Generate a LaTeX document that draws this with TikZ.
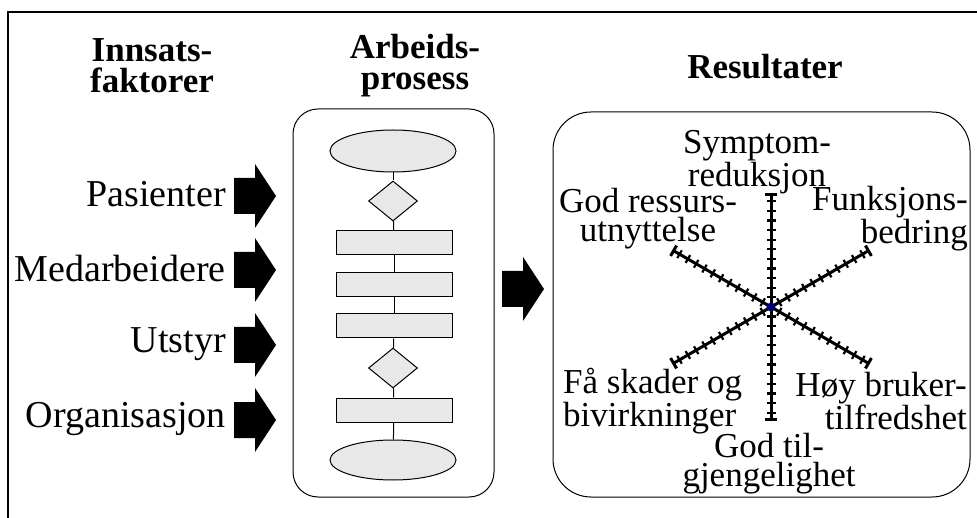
\documentclass[tikz,border=0pt]{standalone}
\usepackage{fontspec}
\setmainfont{Liberation Serif}
\usetikzlibrary{shapes.geometric,arrows.meta}

\begin{document}
\begin{tikzpicture}[x=1pt,y=-1pt,font=\fontsize{35}{29}\selectfont]
\tikzset{
 flow/.style={draw,fill=gray!18,line width=1pt,inner sep=0pt},
 roundbox/.style={draw,line width=1pt,inner sep=0pt},
 head/.style={font=\fontsize{35}{31}\selectfont\bfseries,align=center,inner sep=0pt},
 input/.style={anchor=east,inner sep=0pt,font=\fontsize{38}{38}\selectfont},
 lab/.style={align=center,inner sep=0pt},
 spoke/.style={line width=3pt,-{Bar[width=12pt,line width=3pt]}},
 tick/.style={line width=2.2pt},
 blockarrow/.pic={\fill (-21,-18) -- (0,-18) -- (0,-32) -- (21,0) -- (0,32) -- (0,18) -- (-21,18) -- cycle;}
}
%\draw[help lines] (0,0) grid (977,518);
\clip (0,0) rectangle (977,518);
\draw[line width=2pt] (8,540) -- (8,12) -- (995,12);

% headings
\node (hin) [head] at (152,66) {Innsats-\\faktorer};
\node (hap) [head] at (415,66) {Arbeids-\\prosess};
\node (hres) [head] at (765,67) {Resultater};

% inputs
\node (pas) [input] at (226,194) {Pasienter};
\node (med) [input] at (226,269) {Medarbeidere};
\node (uts) [input] at (226,344) {Utstyr};
\node (org) [input] at (226,419) {Organisasjon};
\foreach \y in {196,270,345,420}
  \pic at (255,\y) {blockarrow};

% process
\node (proc) [roundbox,rounded corners=25pt,minimum width=201pt,minimum height=388pt] at (393.5,303) {};
\node (start) [flow,ellipse,minimum width=126pt,minimum height=42pt] at (393,151) {};
\node (q1) [flow,diamond,minimum width=49pt,minimum height=40pt] at (393,201) {};
\node (s1) [flow,minimum width=116pt,minimum height=24pt] at (394,243) {};
\node (s2) [flow,minimum width=116pt,minimum height=24pt] at (394,285) {};
\node (s3) [flow,minimum width=116pt,minimum height=24pt] at (394,326) {};
\node (q2) [flow,diamond,minimum width=49pt,minimum height=40pt] at (393,368) {};
\node (s4) [flow,minimum width=116pt,minimum height=24pt] at (394,410) {};
\node (stop) [flow,ellipse,minimum width=126pt,minimum height=40pt] at (393,460) {};
\path[line width=1pt]
(start) edge (q1)
(q1) edge (s1)
(s1) edge (s2)
(s2) edge (s3)
(s3) edge (q2)
(q2) edge (s4)
(s4) edge (stop);

\pic at (523,289) {blockarrow};

% results
\node (res) [roundbox,rounded corners=38pt,minimum width=417pt,minimum height=385pt] at (761.5,304.5) {};
\coordinate (c) at (771,307);
\foreach \a in {90,270,30,210,150,330} {
  \draw[spoke] (c) -- ([shift={(\a:114)}]c);
  \foreach \i in {1,...,11}
    \draw[tick] ([shift={(\a:\i*9.6)}]c) ++(\a+90:4.5) -- ++(\a-90:9);
}
\fill[blue!45!black] (c) circle (4.5);

\node (sym) [lab] at (757,162) {Symptom-\\reduksjon};
\node (ress) [lab] at (648,219) {God ressurs-\\utnyttelse};
\node (funk) [lab,align=right,anchor=east] at (968,219) {Funksjons-\\bedring};
\node (skad) [lab,align=left,anchor=west] at (563,401) {Få skader og\\bivirkninger};
\node (hoy) [lab,align=right,anchor=east] at (967,401) {Høy bruker-\\tilfredshet};
\node (tilg) [lab] at (769,464) {God til-\\gjengelighet};
\end{tikzpicture}
\end{document}
